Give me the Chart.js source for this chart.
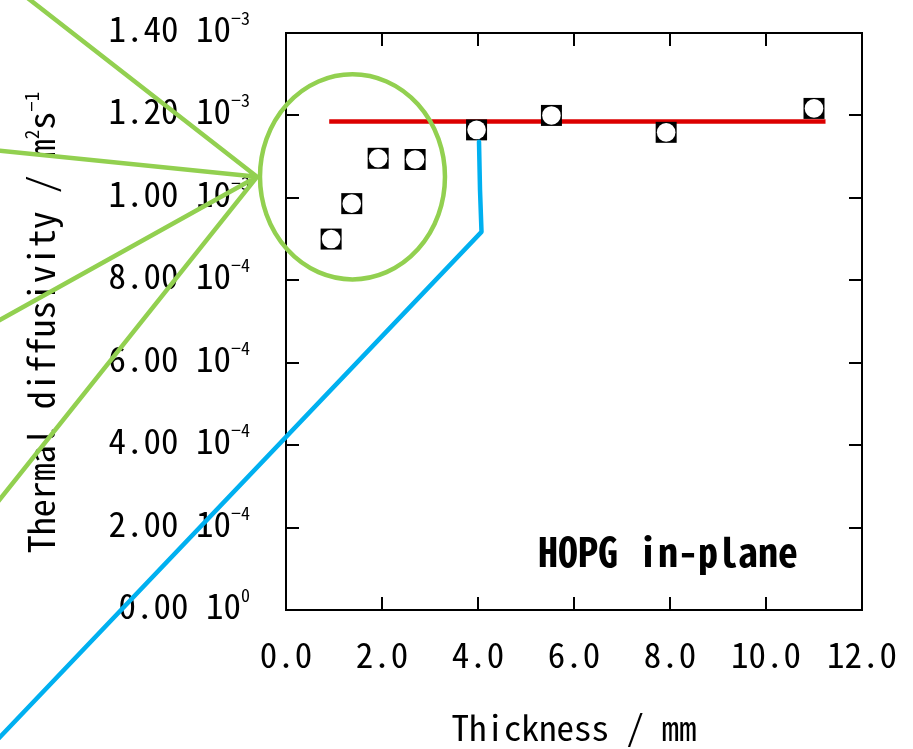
<!DOCTYPE html>
<html>
<head>
<meta charset="utf-8">
<script src="https://cdn.jsdelivr.net/npm/chart.js@4/dist/chart.umd.min.js"></script>
<style>
  html, body { margin: 0; padding: 0; background: #fff; }
  #wrap { width: 913px; height: 749px; }
</style>
</head>
<body>
<div id="wrap"><canvas id="chart" width="913" height="749"></canvas></div>
<script>
// measured points
var thickness = [0.94, 1.37, 1.92, 2.69, 3.97, 5.53, 7.92, 11.0];
var diffusivity = [0.900e-3, 0.986e-3, 1.096e-3, 1.093e-3, 1.165e-3, 1.200e-3, 1.159e-3, 1.217e-3];

// red level line
var fitX = [0.9, 11.24];
var fitY = [1.185e-3, 1.185e-3];

// axis ticks
var xTicks = [0, 2, 4, 6, 8, 10, 12];
var yTicks = [0, 0.2e-3, 0.4e-3, 0.6e-3, 0.8e-3, 1.0e-3, 1.2e-3, 1.4e-3];
var yMant = ['0.00', '2.00', '4.00', '6.00', '8.00', '1.00', '1.20', '1.40'];
var yExp = ['0', '\u22124', '\u22124', '\u22124', '\u22124', '\u22123', '\u22123', '\u22123'];

// callout shapes (data units)
var ovalX = 1.385, ovalY = 1.051e-3, ovalRx = 1.927, ovalRy = 0.2488e-3;
var rayFrom = [-0.604, 1.051e-3];
var rayEndX = [-6.167, -6.167, -6.167, -6.167];
var rayEndY = [1.5561e-3, 1.1165e-3, 0.6903e-3, 0.2388e-3];
var blueX = [-6.167, 4.073, 4.042, 4.021];
var blueY = [-0.3337e-3, 0.9175e-3, 1.019e-3, 1.136e-3];

var FONT = "'Noto Sans Mono CJK JP', 'Noto Sans CJK JP', 'DejaVu Sans Mono', monospace";

function pts(xs, ys) {
  return xs.map(function (v, i) { return {x: v, y: ys[i]}; });
}

var extras = {
  id: 'extras',
  afterDraw: function (chart) {
    var ctx = chart.ctx, a = chart.chartArea;
    var x = chart.scales.x, y = chart.scales.y;
    ctx.save();

    // frame + inward ticks
    ctx.strokeStyle = '#000';
    ctx.lineWidth = 2;
    ctx.strokeRect(a.left, a.top, a.right - a.left, a.bottom - a.top);
    ctx.beginPath();
    xTicks.forEach(function (v) {
      var px = Math.round(x.getPixelForValue(v));
      ctx.moveTo(px, a.bottom); ctx.lineTo(px, a.bottom - 13);
      ctx.moveTo(px, a.top); ctx.lineTo(px, a.top + 13);
    });
    yTicks.forEach(function (v) {
      var py = Math.round(y.getPixelForValue(v));
      ctx.moveTo(a.left, py); ctx.lineTo(a.left + 13, py);
      ctx.moveTo(a.right, py); ctx.lineTo(a.right - 13, py);
    });
    ctx.stroke();

    // y tick labels with powers of ten
    ctx.fillStyle = '#000';
    ctx.textBaseline = 'alphabetic';
    ctx.textAlign = 'left';
    yTicks.forEach(function (v, i) {
      var py = y.getPixelForValue(v);
      ctx.font = '18px ' + FONT;
      var ew = ctx.measureText(yExp[i]).width;
      var right = 250;
      ctx.fillText(yExp[i], right - ew, py - 8);
      ctx.font = '35px ' + FONT;
      var main = yMant[i] + ' 10';
      var mw = ctx.measureText(main).width;
      ctx.fillText(main, right - ew - mw, py + 9);
    });

    // y title
    var parts = [
      ['Thermal diffusivity / m', 36, 0],
      ['2', 19, -16],
      ['s', 36, 0],
      ['\u22121', 19, -16]
    ];
    var total = 0;
    parts.forEach(function (p) { ctx.font = p[1] + 'px ' + FONT; total += ctx.measureText(p[0]).width; });
    ctx.save();
    ctx.translate(55, (a.top + a.bottom) / 2 + 1);
    ctx.rotate(-Math.PI / 2);
    var cx = -total / 2;
    parts.forEach(function (p) {
      ctx.font = p[1] + 'px ' + FONT;
      ctx.fillText(p[0], cx, p[2]);
      cx += ctx.measureText(p[0]).width;
    });
    ctx.restore();

    // sample label
    ctx.font = 'bold 40px ' + FONT;
    ctx.textAlign = 'center';
    ctx.textBaseline = 'middle';
    ctx.fillText('HOPG in-plane', x.getPixelForValue(7.96), y.getPixelForValue(0.141e-3));

    // callout: green oval + rays
    ctx.lineCap = 'round';
    ctx.strokeStyle = '#92D050';
    ctx.lineWidth = 4.5;
    var ox = x.getPixelForValue(ovalX), oy = y.getPixelForValue(ovalY);
    var rx = x.getPixelForValue(ovalX + ovalRx) - ox;
    var ry = oy - y.getPixelForValue(ovalY + ovalRy);
    ctx.beginPath();
    ctx.ellipse(ox, oy, rx, ry, 0, 0, Math.PI * 2);
    ctx.stroke();
    var fx = x.getPixelForValue(rayFrom[0]), fy = y.getPixelForValue(rayFrom[1]);
    ctx.beginPath();
    rayEndX.forEach(function (v, i) {
      ctx.moveTo(fx, fy);
      ctx.lineTo(x.getPixelForValue(v), y.getPixelForValue(rayEndY[i]));
    });
    ctx.stroke();

    // callout: blue leader
    ctx.strokeStyle = '#00B0F0';
    ctx.lineJoin = 'round';
    ctx.beginPath();
    blueX.forEach(function (v, i) {
      var px = x.getPixelForValue(v), py = y.getPixelForValue(blueY[i]);
      if (i === 0) ctx.moveTo(px, py); else ctx.lineTo(px, py);
    });
    ctx.stroke();
    ctx.restore();
  }
};

var ctx = document.getElementById('chart').getContext('2d');
var chart = new Chart(ctx, {
  type: 'scatter',
  data: {
    datasets: [{
      type: 'line',
      data: pts(fitX, fitY),
      borderColor: '#DC0000',
      borderWidth: 4.5,
      pointRadius: 0,
      fill: false,
      order: 3
    }, {
      data: pts(thickness, diffusivity),
      pointStyle: 'rect',
      pointRadius: 14.85,
      pointBackgroundColor: '#000',
      pointBorderWidth: 0,
      order: 2
    }, {
      data: pts(thickness, diffusivity),
      pointStyle: 'circle',
      pointRadius: 9.3,
      pointBackgroundColor: '#fff',
      pointBorderWidth: 0,
      order: 1
    }]
  },
  options: {
    responsive: false,
    devicePixelRatio: 1,
    animation: false,
    layout: { padding: { left: 0, top: 33, right: 42, bottom: 0 } },
    plugins: { legend: { display: false }, tooltip: { enabled: false } },
    scales: {
      x: {
        type: 'linear',
        min: 0, max: 12,
        afterBuildTicks: function (s) { s.ticks = xTicks.map(function (v) { return {value: v}; }); },
        afterFit: function (s) { s.height = 139; },
        grid: { display: false },
        border: { display: false },
        ticks: {
          color: '#000',
          padding: 16,
          font: { family: FONT, size: 35 },
          callback: function (v) { return v.toFixed(1); }
        },
        title: {
          display: true,
          text: 'Thickness / mm',
          color: '#000',
          font: { family: FONT, size: 35 },
          padding: { top: 0, bottom: 0 }
        }
      },
      y: {
        type: 'linear',
        min: 0, max: 1.4e-3,
        afterBuildTicks: function (s) { s.ticks = yTicks.map(function (v) { return {value: v}; }); },
        afterFit: function (s) { s.width = 286; },
        grid: { display: false },
        border: { display: false },
        ticks: { display: false }
      }
    }
  },
  plugins: [extras]
});
</script>
</body>
</html>
